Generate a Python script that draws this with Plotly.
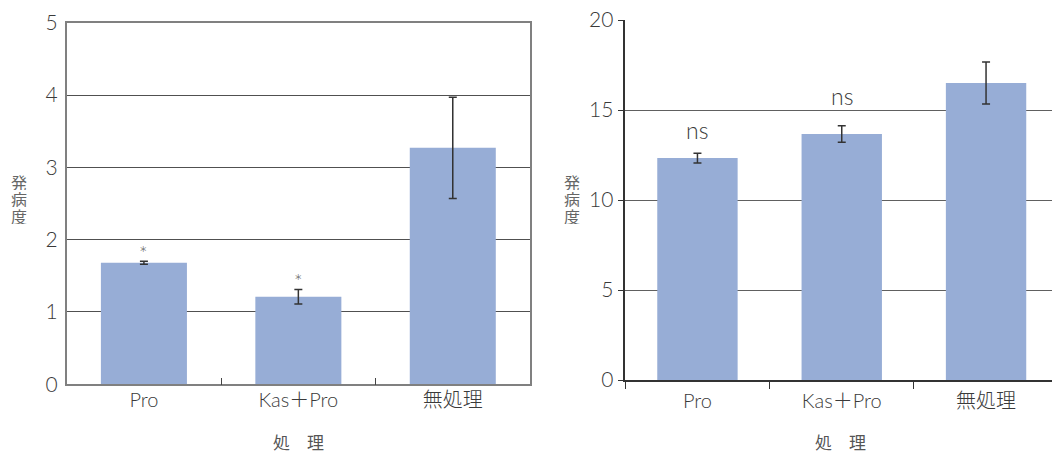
import plotly.graph_objects as go

categories = ["Pro", "Kas＋Pro", "無処理"]
left_values = [1.68, 1.21, 3.27]
left_errors = [0.02, 0.10, 0.70]
left_marks = ["*", "*", ""]
right_values = [12.33, 13.67, 16.5]
right_errors = [0.27, 0.46, 1.16]
right_marks = ["ns", "ns", ""]
left_ticks = [0, 1, 2, 3, 4, 5]
right_ticks = [0, 5, 10, 15, 20]
y_title_chars = ["発", "病", "度"]
x_title = "処　理"

W, H = 1052, 453
BAR = "#97ADD6"
TXT = "#3a3a3a"
FONT = "Lato, Noto Sans CJK JP"
CJK = "Noto Sans CJK JP"
ns_shifts = [21, 28, 0]

def px(x):
    return x / W

def py(y):
    return 1 - y / H

fig = go.Figure()
fig.add_trace(go.Bar(x=categories, y=left_values, marker_color=BAR, marker_line_width=0,
                     error_y=dict(type="data", array=left_errors, color="#333333", thickness=1.5, width=4),
                     xaxis="x", yaxis="y", showlegend=False))
fig.add_trace(go.Bar(x=categories, y=right_values, marker_color=BAR, marker_line_width=0,
                     error_y=dict(type="data", array=right_errors, color="#333333", thickness=1.5, width=4),
                     xaxis="x2", yaxis="y2", showlegend=False))

ann = []
for c, v, e, m in zip(categories, left_values, left_errors, left_marks):
    if m:
        ann.append(dict(x=c, y=v + e, xref="x", yref="y", text=m, showarrow=False,
                        yanchor="bottom", yshift=-5.5, font=dict(size=20, color="#5a5a5a", family=FONT, weight=300)))
for c, v, e, m, s in zip(categories, right_values, right_errors, right_marks, ns_shifts):
    if m:
        ann.append(dict(x=c, y=v + e, xref="x2", yref="y2", text=m, showarrow=False,
                        yanchor="middle", yshift=s + 2, font=dict(size=23, color=TXT, family=FONT, weight=300)))
# y titles (vertical stacked)
for xx in (19, 572):
    for i, ch in enumerate(y_title_chars):
        ann.append(dict(x=px(xx), y=py(181 + 17 * i), xref="paper", yref="paper", text=ch, showarrow=False,
                        xanchor="center", yanchor="middle", height=17,
                        font=dict(size=16, color="#666666", family=CJK)))
# x titles
for xx in (298.5, 840):
    ann.append(dict(x=px(xx), y=py(441), xref="paper", yref="paper", text=x_title, showarrow=False,
                    xanchor="center", yanchor="middle", height=19,
                    font=dict(size=17, color="#555555", family=CJK)))

tickfont_x = dict(size=20, color=TXT, family=FONT, weight=300)
tickfont_y = dict(size=21, color=TXT, family=FONT, weight=300)

fig.update_layout(
    width=W, height=H,
    margin=dict(l=0, r=0, t=0, b=0, pad=0),
    plot_bgcolor="white", paper_bgcolor="white",
    bargap=0.443,
    font=dict(family=FONT, color=TXT, size=19),
    annotations=ann,
    xaxis=dict(domain=[px(66.7), px(530)], anchor="y", showline=True, linecolor="#808080", linewidth=1.5,
               mirror=True, ticks="inside", tickson="boundaries", ticklen=7, tickcolor="#444444",
               showgrid=False, tickfont=tickfont_x, range=[-0.5, 2.5], automargin=False,
               ticklabelstandoff=-3),
    yaxis=dict(domain=[py(384.3), py(22.7)], anchor="x", range=[0, 5], tickvals=left_ticks,
               showline=True, linecolor="#808080", linewidth=1.5, mirror=True,
               showgrid=True, gridcolor="#505050", gridwidth=1.2, ticks="", zeroline=False,
               ticklabelstandoff=3, tickfont=tickfont_y, automargin=False),
    xaxis2=dict(domain=[px(625.3), 1.0], anchor="y2", showline=True, linecolor="#333333", linewidth=1.5,
                ticks="outside", tickson="boundaries", ticklen=7, tickcolor="#333333",
                showgrid=False, tickfont=tickfont_x, range=[-0.5, 2.457], automargin=False,
                ticklabelstandoff=2),
    yaxis2=dict(domain=[py(380), py(20)], anchor="x2", range=[0, 20], tickvals=right_ticks,
                showline=True, linecolor="#333333", linewidth=1.5,
                showgrid=True, gridcolor="#606060", gridwidth=1.2, ticks="outside", ticklen=6,
                tickcolor="#333333", zeroline=False, tickfont=tickfont_y, automargin=False),
)

fig.write_html("out.html")
